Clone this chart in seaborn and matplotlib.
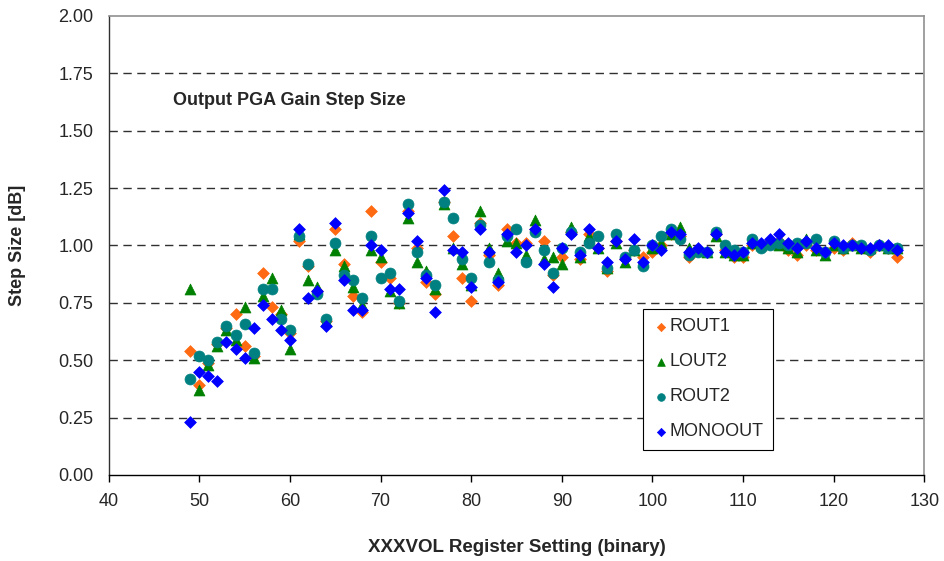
import matplotlib
matplotlib.use("Agg")
import matplotlib.pyplot as plt
import seaborn as sns
import pandas as pd
import numpy as np

register_setting = list(range(49, 128))

rout1 = [0.54, 0.39, 0.49, 0.57, 0.64, 0.70, 0.56, 0.52, 0.88, 0.73, 0.70, 0.62,
         1.02, 0.91, 0.80, 0.67, 1.07, 0.92, 0.78, 0.71, 1.15, 0.93, 0.86, 0.75,
         1.15, 0.99, 0.84, 0.79, 1.19, 1.04, 0.86, 0.76, 1.10, 0.96, 0.83, 1.07,
         1.01, 1.01, 1.07, 1.02, 0.87, 0.95, 1.06, 0.94, 1.05, 0.99, 0.89, 1.02,
         0.94, 0.98, 0.95, 0.97, 1.00, 1.05, 1.04, 0.95, 0.98, 0.97, 1.05, 0.98,
         0.95, 0.95, 1.00, 1.00, 1.02, 1.02, 0.98, 0.96, 1.00, 0.98, 0.97, 0.99,
         0.98, 1.01, 0.99, 0.97, 1.00, 0.99, 0.95]

lout2 = [0.81, 0.37, 0.48, 0.56, 0.63, 0.59, 0.73, 0.51, 0.78, 0.86, 0.72, 0.55,
         1.05, 0.85, 0.82, 0.67, 0.98, 0.91, 0.82, 0.74, 0.98, 0.95, 0.80, 0.75,
         1.12, 0.93, 0.89, 0.81, 1.18, 0.99, 0.92, 0.83, 1.15, 0.99, 0.88, 1.02,
         1.01, 0.96, 1.11, 0.94, 0.95, 0.92, 1.08, 0.95, 1.04, 0.99, 0.90, 1.01,
         0.93, 0.98, 0.93, 0.99, 1.01, 1.05, 1.08, 0.99, 0.98, 0.97, 1.04, 0.97,
         0.96, 0.96, 1.01, 1.00, 1.01, 1.00, 0.99, 0.97, 1.03, 0.98, 0.96, 1.00,
         0.99, 1.00, 0.99, 0.99, 1.00, 0.99, 0.99]

rout2 = [0.42, 0.52, 0.50, 0.58, 0.65, 0.61, 0.66, 0.53, 0.81, 0.81, 0.68, 0.63,
         1.04, 0.92, 0.79, 0.68, 1.01, 0.87, 0.85, 0.77, 1.04, 0.86, 0.88, 0.76,
         1.18, 0.97, 0.87, 0.83, 1.19, 1.12, 0.94, 0.86, 1.09, 0.93, 0.85, 1.04,
         1.07, 0.93, 1.06, 0.98, 0.88, 0.99, 1.06, 0.97, 1.01, 1.04, 0.90, 1.05,
         0.95, 0.98, 0.91, 1.00, 1.04, 1.07, 1.03, 0.96, 0.97, 0.97, 1.06, 1.00,
         0.98, 0.97, 1.03, 0.99, 1.00, 1.01, 1.00, 1.01, 1.01, 1.03, 0.97, 1.02,
         0.99, 1.00, 1.00, 0.98, 1.00, 0.99, 0.99]

monoout = [0.23, 0.45, 0.43, 0.41, 0.58, 0.55, 0.51, 0.64, 0.74, 0.68, 0.63, 0.59,
           1.07, 0.77, 0.80, 0.65, 1.10, 0.85, 0.72, 0.72, 1.00, 0.98, 0.81, 0.81,
           1.14, 1.02, 0.86, 0.71, 1.24, 0.98, 0.97, 0.82, 1.07, 0.97, 0.84, 1.05,
           0.97, 1.00, 1.07, 0.92, 0.82, 0.99, 1.05, 0.96, 1.07, 0.99, 0.93, 1.02,
           0.94, 1.03, 0.93, 1.00, 0.98, 1.06, 1.05, 0.97, 0.99, 0.97, 1.05, 0.97,
           0.96, 0.97, 1.01, 1.01, 1.03, 1.05, 1.01, 0.99, 1.02, 0.99, 0.97, 1.01,
           1.00, 1.00, 0.99, 0.99, 1.00, 1.00, 0.98]

series_names = ["ROUT1", "LOUT2", "ROUT2", "MONOOUT"]
series_values = [rout1, lout2, rout2, monoout]
x_ticks = [40, 50, 60, 70, 80, 90, 100, 110, 120, 130]
y_ticks = [0.00, 0.25, 0.50, 0.75, 1.00, 1.25, 1.50, 1.75, 2.00]

colors = {"ROUT1": "#FF6A13", "LOUT2": "#008000", "ROUT2": "#008080", "MONOOUT": "#0000FF"}
markers = {"ROUT1": "D", "LOUT2": "^", "ROUT2": "o", "MONOOUT": "D"}

frames = []
for name, vals in zip(series_names, series_values):
    assert len(vals) == len(register_setting), name
    frames.append(pd.DataFrame({"x": register_setting, "y": vals, "series": name}))
df = pd.concat(frames, ignore_index=True)

sns.set_style("white")
plt.rcParams["font.family"] = ["Liberation Sans", "DejaVu Sans"]

fig = plt.figure(figsize=(9.44, 5.61), dpi=100)
ax = fig.add_axes([0.1151, 0.1533, 0.8640, 0.8182])

# dashed gridlines
for yv in y_ticks[1:-1]:
    ax.axhline(yv, color="#303030", lw=1.0, ls=(0, (6, 4)), zorder=0)

for name in series_names:
    sub = df[df.series == name]
    sz = {"ROUT1": 36, "LOUT2": 62, "ROUT2": 62, "MONOOUT": 36}[name]
    sns.scatterplot(data=sub, x="x", y="y", ax=ax, marker=markers[name],
                    color=colors[name], edgecolor=colors[name], linewidth=0.5,
                    s=sz, label=name, zorder=3)

ax.set_xlim(40, 130)
ax.set_ylim(0, 2)
ax.set_xticks(x_ticks)
ax.set_yticks(y_ticks)
ax.set_yticklabels([f"{v:.2f}" for v in y_ticks])
ax.tick_params(axis="x", direction="out", length=5, width=1, color="black",
               labelsize=13, pad=8, bottom=True)
ax.tick_params(axis="y", length=0, labelsize=13, pad=11)

for side in ["top", "right"]:
    ax.spines[side].set_color("#909090")
    ax.spines[side].set_linewidth(1.2)
ax.spines["left"].set_color("#303030")
ax.spines["left"].set_linewidth(1.0)
ax.spines["bottom"].set_color("black")
ax.spines["bottom"].set_linewidth(1.0)

ax.set_xlabel("XXXVOL Register Setting (binary)", fontsize=13.5, fontweight="bold")
ax.set_ylabel("Step Size [dB]", fontsize=13, fontweight="bold")
ax.xaxis.set_label_coords(0.5, -0.157)
ax.xaxis.label.set_va("center")
ax.yaxis.set_label_coords(-0.112, 0.5)
ax.yaxis.label.set_va("center")

ax.text(0.079, 0.816, "Output PGA Gain Step Size", transform=ax.transAxes,
        fontsize=13, fontweight="bold", va="center", ha="left")

handles, labels = ax.get_legend_handles_labels()
leg = ax.legend(handles, labels, loc="upper left", bbox_to_anchor=(0.655, 0.361),
                borderaxespad=0, frameon=True, fancybox=False, shadow=False,
                fontsize=13, markerscale=0.7, handletextpad=0.0,
                labelspacing=1.0, borderpad=0.5, handlelength=1.0)
leg.get_frame().set_edgecolor("black")
leg.get_frame().set_linewidth(0.8)
leg.get_frame().set_alpha(1)

fig.savefig("out.png", dpi=100)
